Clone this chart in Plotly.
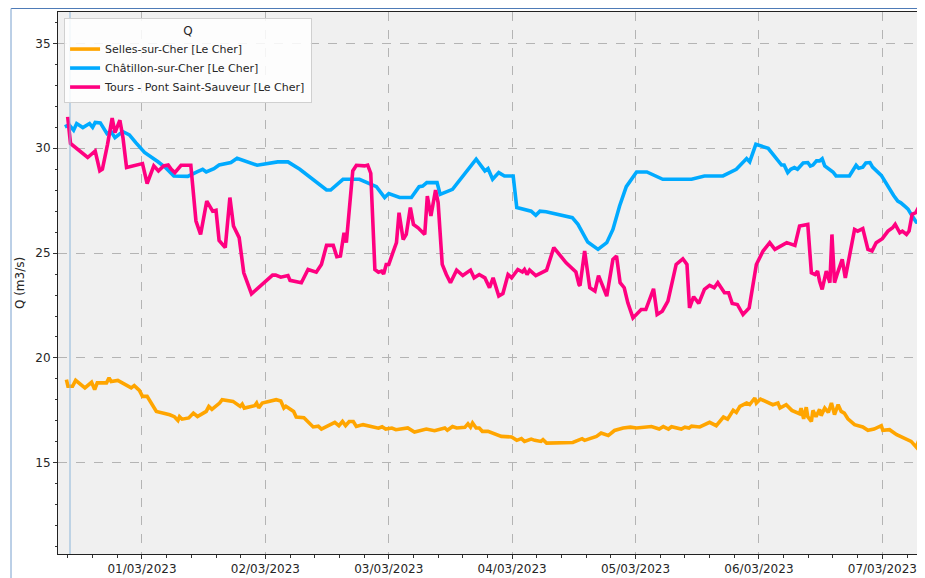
import pandas as pd
import plotly.graph_objects as go

# ---------------- data (hours relative to 2023-03-01 00:00, flow in m3/s) ----------------
selles_hours = [-14.7, -14.4, -13.5, -12.9, -11.1, -9.8, -9.2, -8.7, -6.9, -6.4, -6.0, -4.7, -2.1, -1.5, -0.5,
                0.1, 1.0, 2.8, 5.4, 6.3, 7.0, 7.3, 7.8, 9.1, 10.0, 10.8, 12.5, 13.0, 13.6, 15.1, 15.6, 17.7,
                19.1, 19.5, 19.9, 21.9, 22.3, 22.7, 23.4, 26.1, 27.0, 27.6, 28.0, 29.5, 30.0, 31.5, 33.3, 34.3,
                34.9, 37.5, 38.3, 39.0, 39.6, 40.3, 41.1, 41.7, 43.0, 46.0, 46.7, 47.4, 48.6, 49.4, 51.7, 53.0,
                55.3, 56.9, 58.9, 59.4, 60.4, 61.2, 62.8, 63.4, 63.9, 64.3, 65.0, 65.6, 66.2, 67.3, 69.9, 71.9,
                72.9, 73.8, 74.4, 75.7, 76.4, 77.6, 78.0, 78.7, 83.8, 85.6, 86.1, 88.4, 89.3, 90.7, 91.9, 93.6,
                95.0, 96.2, 99.1, 100.6, 101.4, 102.4, 103.0, 104.9, 105.6, 106.4, 106.9, 108.5, 110.4, 111.7,
                113.1, 113.9, 115.0, 115.6, 116.3, 117.6, 118.2, 119.2, 119.5, 120.3, 122.7, 123.7, 124.1, 125.3,
                126.4, 127.9, 128.2, 128.7, 129.2, 129.5, 130.2, 130.5, 131.1, 131.8, 132.1, 132.8, 133.5, 134.1,
                134.7, 135.4, 136.0, 136.6, 137.3, 138.6, 140.2, 141.2, 142.4, 143.8, 144.1, 145.4, 146.8, 148.4,
                149.6, 150.6, 150.9, 151.6, 152.2]
selles_q = [18.97, 18.65, 18.65, 18.93, 18.57, 18.84, 18.49, 18.81, 18.81, 19.05, 18.88, 18.93, 18.57, 18.68, 18.45,
            18.17, 18.17, 17.45, 17.29, 17.2, 17.02, 17.2, 17.08, 17.14, 17.37, 17.21, 17.45, 17.69, 17.55, 17.85,
            18.01, 17.93, 17.69, 17.8, 17.61, 17.72, 17.85, 17.62, 17.85, 18.01, 17.95, 17.61, 17.7, 17.45, 17.18,
            17.15, 16.71, 16.75, 16.61, 16.93, 16.77, 16.97, 16.77, 16.97, 16.97, 16.73, 16.82, 16.65, 16.72, 16.61,
            16.66, 16.58, 16.66, 16.47, 16.61, 16.53, 16.66, 16.55, 16.73, 16.66, 16.69, 16.86, 16.7, 16.9, 16.66,
            16.66, 16.5, 16.5, 16.26, 16.23, 16.07, 16.15, 16.02, 16.13, 16.07, 16.02, 16.1, 15.94, 15.97, 16.15,
            16.07, 16.26, 16.42, 16.3, 16.54, 16.66, 16.7, 16.66, 16.73, 16.61, 16.73, 16.61, 16.72, 16.61, 16.7,
            16.66, 16.75, 16.71, 16.93, 16.77, 17.18, 17.08, 17.5, 17.4, 17.69, 17.85, 17.78, 18.09, 17.85, 18.04,
            17.77, 17.85, 17.61, 17.77, 17.5, 17.34, 17.6, 17.1, 17.65, 17.2, 16.97, 17.5, 17.2, 17.55, 17.25,
            17.61, 17.4, 17.85, 17.3, 17.77, 17.45, 17.37, 17.1, 16.82, 16.71, 16.55, 16.61, 16.77, 16.55, 16.58,
            16.34, 16.18, 16.02, 15.75, 15.95, 15.81, 15.86]

chatillon_hours = [-15.0, -14.2, -13.3, -12.7, -11.5, -10.2, -9.6, -9.1, -8.1, -7.3, -6.8, -6.0, -5.25, -3.75,
                   -2.45, -1.2, 0.5, 3.05, 4.7, 6.2, 8.9, 10.8, 11.8, 12.5, 14.0, 15.0, 17.3, 18.5, 22.4, 26.4,
                   28.4, 30.7, 35.9, 36.7, 39.1, 42.3, 45.6, 47.2, 48.0, 50.1, 52.4, 53.9, 54.6, 55.4, 57.4, 58.0,
                   60.4, 65.0, 66.7, 67.3, 68.2, 69.4, 70.5, 72.2, 72.9, 75.7, 76.6, 77.4, 78.6, 83.7, 84.8, 86.7,
                   88.7, 90.4, 91.6, 92.9, 94.2, 96.2, 98.2, 101.3, 106.9, 109.4, 113.0, 115.6, 117.6, 118.2, 119.4,
                   121.8, 124.4, 124.9, 125.6, 126.2, 126.9, 127.5, 128.2, 128.6, 129.5, 130.0, 130.5, 131.2, 131.8,
                   132.3, 132.8, 134.4, 135.0, 137.6, 138.9, 139.4, 140.2, 140.8, 141.6, 142.1, 143.8, 145.4, 146.2,
                   147.0, 147.6, 148.3, 149.0, 149.6, 150.6, 151.3, 152.2]
chatillon_q = [31.02, 31.12, 30.86, 31.18, 30.99, 31.18, 31.0, 31.23, 31.21, 30.91, 30.7, 30.8, 30.51, 30.8,
               30.64, 30.27, 29.8, 29.37, 29.05, 28.68, 28.66, 28.89, 29.0, 28.87, 29.03, 29.2, 29.32, 29.52, 29.19,
               29.35, 29.35, 29.0, 28.01, 28.01, 28.52, 28.52, 28.17, 27.65, 27.84, 27.65, 27.65, 28.17, 28.2, 28.36,
               28.36, 27.8, 28.04, 29.48, 28.92, 29.03, 28.52, 28.84, 28.68, 28.68, 27.17, 27.0, 26.8, 27.0, 26.97,
               26.69, 26.37, 25.53, 25.18, 25.5, 26.13, 27.25, 28.17, 28.87, 28.87, 28.52, 28.52, 28.68, 28.68, 29.0,
               29.51, 29.35, 30.19, 30.0, 29.2, 29.2, 28.84, 29.0, 29.08, 29.0, 29.16, 29.3, 29.32, 29.15, 29.2,
               29.4, 29.4, 29.5, 29.16, 28.87, 28.68, 28.68, 29.19, 29.05, 29.1, 29.3, 29.32, 29.1, 28.71, 28.04,
               27.75, 27.48, 27.4, 27.25, 27.1, 26.85, 26.48, 26.45, 26.32]

tours_hours = [-14.45, -13.9, -10.56, -9.1, -8.2, -7.7, -6.7, -5.8, -5.25, -4.3, -3.7, -3.0, 0.1, 1.0, 2.3, 3.2,
               4.2, 5.1, 5.7, 6.4, 7.6, 9.5, 10.5, 11.4, 12.6, 13.75, 14.4, 15.0, 16.2, 17.1, 17.8, 18.9, 19.8,
               21.3, 25.4, 26.0, 27.0, 28.4, 28.8, 31.0, 32.3, 33.9, 34.9, 35.9, 37.2, 37.9, 38.6, 39.3, 39.75,
               40.3, 41.0, 41.7, 43.3, 43.9, 44.5, 45.3, 46.0, 46.6, 47.0, 47.5, 48.0, 48.8, 49.5, 50.0, 50.8,
               51.4, 52.2, 52.8, 53.7, 55.0, 55.5, 56.2, 57.1, 57.6, 58.4, 59.2, 60.0, 61.2, 62.4, 63.9, 64.6,
               65.6, 66.7, 67.6, 68.3, 69.4, 70.2, 71.2, 71.9, 73.1, 74.0, 74.4, 74.9, 75.4, 76.6, 78.7, 80.1,
               82.5, 84.1, 84.4, 85.0, 85.2, 86.1, 87.1, 88.1, 88.8, 90.4, 91.6, 92.3, 93.0, 93.8, 94.5, 95.5,
               97.1, 98.0, 99.5, 100.2, 101.2, 102.3, 103.9, 105.2, 106.0, 106.5, 107.3, 108.3, 109.4, 110.4,
               111.3, 112.0, 113.3, 114.1, 114.8, 115.8, 116.9, 118.1, 119.5, 120.8, 122.1, 123.1, 124.4, 125.4,
               127.0, 127.9, 129.5, 130.2, 130.9, 131.4, 131.8, 132.3, 133.1, 133.8, 134.2, 134.7, 135.3, 136.2,
               136.8, 137.6, 138.6, 139.2, 140.2, 141.2, 142.0, 142.8, 144.0, 145.1, 146.0, 146.5, 147.4, 147.9,
               148.7, 149.2, 149.8, 150.5, 151.2, 152.2]
tours_q = [31.5, 30.23, 29.56, 29.87, 28.92, 29.0, 30.19, 31.44, 30.75, 31.34, 30.51, 29.08, 29.27, 28.32, 29.16,
           28.92, 29.16, 29.2, 29.0, 28.84, 29.19, 29.19, 26.53, 25.89, 27.48, 27.0, 27.04, 25.6, 25.26, 27.65,
           26.29, 25.74, 24.06, 23.06, 23.95, 23.95, 23.85, 23.93, 23.7, 23.59, 24.22, 24.09, 24.46, 25.37, 25.37,
           24.83, 24.86, 25.97, 25.5, 27.09, 28.92, 29.19, 29.16, 29.2, 28.81, 24.22, 24.09, 24.14, 24.0, 24.46,
           24.46, 25.02, 25.5, 26.93, 25.65, 25.89, 27.17, 26.37, 26.21, 25.89, 27.72, 26.77, 28.01, 27.41, 24.46,
           23.98, 23.59, 24.19, 23.93, 24.19, 23.82, 23.98, 23.82, 23.35, 23.82, 22.95, 23.07, 23.98, 23.82, 24.22,
           24.1, 24.22, 23.98, 24.19, 23.93, 24.19, 25.26, 24.54, 24.14, 24.1, 23.5, 23.45, 25.1, 23.35, 23.19,
           23.93, 22.95, 24.7, 24.86, 23.59, 23.35, 22.63, 21.91, 22.31, 22.31, 23.3, 22.07, 22.23, 22.71, 24.46,
           24.73, 24.46, 22.39, 22.92, 22.6, 23.27, 23.46, 23.35, 23.59, 23.11, 23.11, 22.6, 22.55, 22.07, 22.39,
           24.46, 25.1, 25.5, 25.18, 25.34, 25.5, 25.37, 26.29, 26.37, 24.06, 23.98, 24.14, 23.66, 23.27, 24.14,
           23.59, 25.89, 23.59, 24.06, 24.7, 23.82, 24.86, 26.13, 26.05, 26.17, 25.18, 25.1, 25.5, 25.69, 26.05,
           26.21, 26.37, 25.97, 26.05, 25.89, 26.05, 26.85, 26.93, 27.25, 27.33]

series_names = ["Selles-sur-Cher [Le Cher]", "Châtillon-sur-Cher [Le Cher]", "Tours - Pont Saint-Sauveur [Le Cher]"]
series_colors = ["#ffa500", "#00aaff", "#ff0080"]
marker_time = "2023-02-28 10:00"
x_start = "2023-02-28 07:40"
x_end = "2023-03-07 08:18"
y_range = [10.65, 36.5]

base = pd.Timestamp("2023-03-01 00:00")


def to_time(hours):
    return base + pd.to_timedelta(hours, unit="h")


fig = go.Figure()
for name, color, hrs, q in [
    (series_names[0], series_colors[0], selles_hours, selles_q),
    (series_names[1], series_colors[1], chatillon_hours, chatillon_q),
    (series_names[2], series_colors[2], tours_hours, tours_q),
]:
    fig.add_trace(go.Scatter(x=to_time(hrs), y=q, mode="lines", name=name,
                             line=dict(color=color, width=3.6)))

font_family = "DejaVu Sans"
fig.update_layout(
    width=917, height=570,
    margin=dict(l=50, r=0, t=4, b=24, pad=0),
    paper_bgcolor="white",
    plot_bgcolor="#f0f0f0",
    font=dict(family=font_family, size=12, color="#262626"),
    showlegend=True,
    legend=dict(
        x=0.007, y=0.989, xanchor="left", yanchor="top",
        bgcolor="rgba(255,255,255,0.85)", bordercolor="#d0d0d0", borderwidth=1,
        font=dict(family=font_family, size=11, color="#262626"),
        title=dict(text="Q", side="top center", font=dict(family=font_family, size=12, color="#262626")),
        tracegroupgap=0, itemwidth=30,
    ),
    xaxis=dict(
        type="date", range=[x_start, x_end],
        tick0="2023-03-01", dtick=86400000, tickformat="%d/%m/%Y",
        ticks="outside", ticklen=4, tickcolor="#333", tickwidth=1,
        showline=True, linecolor="#222", linewidth=1, mirror=True,
        showgrid=True, gridcolor="#b4b4b4", griddash="dash", gridwidth=1,
        zeroline=False,
        minor=dict(dtick=17280000, ticks="outside", ticklen=2.5, tickcolor="#333", showgrid=False),
        tickfont=dict(size=12),
    ),
    yaxis=dict(
        range=y_range, dtick=5, tick0=0,
        ticks="outside", ticklen=4, tickcolor="#333", tickwidth=1,
        showline=True, linecolor="#222", linewidth=1, mirror=False,
        showgrid=True, gridcolor="#b4b4b4", griddash="dash", gridwidth=1,
        zeroline=False,
        minor=dict(dtick=1, ticks="outside", ticklen=2.5, tickcolor="#333", showgrid=False),
        title=dict(text="Q (m3/s)", font=dict(size=12), standoff=8),
        tickfont=dict(size=12),
    ),
    shapes=[
        dict(type="line", xref="x", yref="paper", x0=marker_time, x1=marker_time, y0=0, y1=1,
             line=dict(color="#8cb6da", width=1)),
        dict(type="line", xref="paper", yref="paper", x0=-0.0542, x1=1.05, y0=1.0065, y1=1.0065,
             line=dict(color="#4a78b5", width=1)),
        dict(type="line", xref="paper", yref="paper", x0=-0.0542, x1=-0.0542, y0=-0.1, y1=1.0065,
             line=dict(color="#8fb0d6", width=1.2)),
    ],
)

fig.write_html("out.html")
